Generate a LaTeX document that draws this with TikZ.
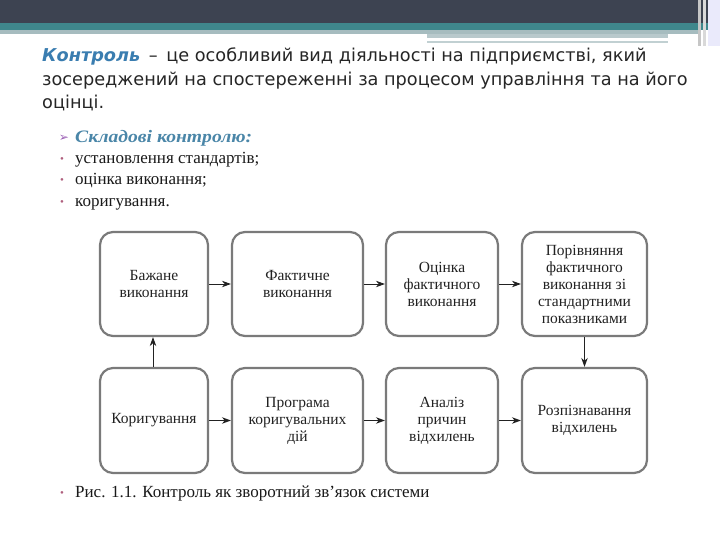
\documentclass[tikz,border=0pt]{standalone}
\usepackage{fontspec}
\setmainfont{Liberation Serif}
\newfontfamily\titlefont{DejaVu Sans}
\newfontfamily\symfont{DejaVu Sans}
\newfontfamily\headfont[FakeStretch=1.12]{Liberation Serif}
\usetikzlibrary{arrows.meta}
\definecolor{darkband}{HTML}{3D4351}
\definecolor{tealband}{HTML}{3F878C}
\definecolor{lightband}{HTML}{A6BCBF}
\definecolor{titleblue}{HTML}{3A7DB0}
\definecolor{headblue}{HTML}{4A86A8}
\definecolor{arrowpurple}{HTML}{9B5FB5}
\definecolor{bulletpink}{HTML}{B0607E}
\definecolor{boxgray}{HTML}{7A7A7A}
\definecolor{textdark}{HTML}{222222}
\tikzset{
  flowbox/.style={draw=boxgray, line width=2.2pt, rounded corners=13pt, inner sep=2pt,
    align=center, text=textdark, font=\fontsize{15.5}{17}\selectfont},
  flowarrow/.style={-{Stealth[length=9pt,width=6.5pt]}, line width=1pt, draw=textdark},
  titleline/.style={anchor=base west, inner sep=0pt, font=\titlefont\fontsize{17.7}{22}\selectfont, text=black!85},
  bodyline/.style={anchor=base west, inner sep=0pt, font=\fontsize{17}{19}\selectfont, text=black!90},
  bulletmark/.style={anchor=base, inner sep=0pt, text=bulletpink, font=\fontsize{11}{12}\selectfont}
}
\begin{document}
\begin{tikzpicture}[x=1pt,y=-1pt]
\useasboundingbox (0,0) rectangle (720,540);
\fill[white] (0,0) rectangle (720,540);
% header bands
\fill[darkband] (0,0) rectangle (720,23);
\fill[tealband] (0,23) rectangle (720,30);
\fill[lightband] (0,30) rectangle (700,34);
\fill[lightband!80] (427,34) rectangle (668,38);
\fill[white] (427,38) rectangle (668,41);
\fill[lightband!70] (427,41) rectangle (668,43);
\fill[gray!45] (698,0) rectangle (701,46);
\fill[gray!30] (703,0) rectangle (706,46);
\fill[gray!35!blue!10] (708,0) rectangle (720,46);
% title
\node[titleline] (t1) at (42,62) {{\bfseries\itshape\color{titleblue}Контроль} \,–\, це особливий вид діяльності на підприємстві, який};
\node[titleline] (t2) at (42,86) {зосереджений на спостереженні за процесом управління та на його};
\node[titleline] (t3) at (42,109) {оцінці.};
% components list
\node[anchor=base, inner sep=0pt, text=arrowpurple, font=\symfont\fontsize{12}{14}\selectfont] (arr) at (64,142) {➢};
\node[bodyline, font=\headfont\bfseries\itshape\fontsize{17.5}{19}\selectfont, text=headblue] (h) at (75,143) {Складові контролю:};
\node[bulletmark] (d1) at (62,163) {•};
\node[bodyline] (l1) at (75,164) {установлення стандартів;};
\node[bulletmark] (d2) at (62,184) {•};
\node[bodyline] (l2) at (75,185) {оцінка виконання;};
\node[bulletmark] (d3) at (62,206) {•};
\node[bodyline] (l3) at (75,207) {коригування.};
% boxes row 1
\node[flowbox, minimum width=108pt, minimum height=104pt] (b1) at (154,284) {Бажане\\виконання};
\node[flowbox, minimum width=131pt, minimum height=104pt] (b2) at (297.5,284) {Фактичне\\виконання};
\node[flowbox, minimum width=112pt, minimum height=104pt] (b3) at (442,284) {Оцінка\\фактичного\\виконання};
\node[flowbox, minimum width=125pt, minimum height=104pt] (b4) at (584.5,284) {Порівняння\\фактичного\\виконання зі\\стандартними\\показниками};
% boxes row 2
\node[flowbox, minimum width=108pt, minimum height=105pt] (b5) at (154,420.5) {Коригування};
\node[flowbox, minimum width=131pt, minimum height=105pt] (b6) at (297.5,420.5) {Програма\\коригувальних\\дій};
\node[flowbox, minimum width=112pt, minimum height=105pt] (b7) at (442,420.5) {Аналіз\\причин\\відхилень};
\node[flowbox, minimum width=125pt, minimum height=105pt] (b8) at (584.5,420.5) {Розпізнавання\\відхилень};
% arrows
\draw[flowarrow] (b1) -- (b2);
\draw[flowarrow] (b2) -- (b3);
\draw[flowarrow] (b3) -- (b4);
\draw[flowarrow] (b4) -- (b8);
\draw[flowarrow] (b5) -- (b6);
\draw[flowarrow] (b6) -- (b7);
\draw[flowarrow] (b7) -- (b8);
\draw[flowarrow] (b5.north -| 153,0) -- (b1.south -| 153,0);
% caption
\node[bulletmark] (d4) at (62,496) {•};
\node[bodyline] (cap) at (75,497) {Рис. 1.1. Контроль як зворотний зв’язок системи};
\end{tikzpicture}
\end{document}
